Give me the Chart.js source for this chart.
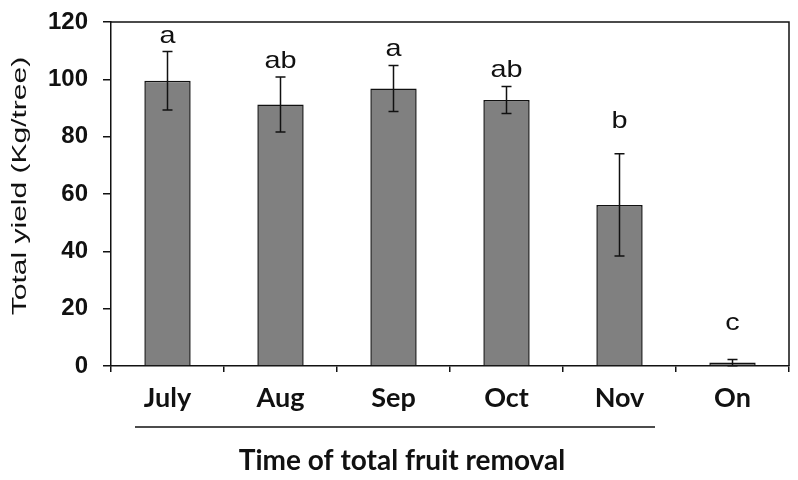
<!DOCTYPE html>
<html>
<head>
<meta charset="utf-8">
<script src="https://cdn.jsdelivr.net/npm/chart.js@4"></script>
<style>
  body { margin: 0; background: #fff; }
</style>
</head>
<body>
<canvas id="graph" width="798" height="480"></canvas>
<script>
const months = ["July", "Aug", "Sep", "Oct", "Nov", "On"];
const yieldMeans = [99.5, 91.2, 96.8, 92.8, 56.2, 1.2];
const yieldErrors = [10.2, 9.6, 8.0, 4.7, 17.8, 1.1];
const letters = ["a", "ab", "a", "ab", "b", "c"];
const letterAt = [112.7, 104.0, 108.2, 100.8, 83.0, 12.6];
const yTicks = [0, 20, 40, 60, 80, 100, 120];

const ctx = document.getElementById("graph").getContext("2d");

const annotate = {
  id: "annotate",
  afterDatasetsDraw(chart) {
    const { ctx, chartArea, scales: { x, y } } = chart;
    ctx.save();
    ctx.strokeStyle = "#111";
    ctx.lineWidth = 1.5;

    // box on top and right
    ctx.beginPath();
    ctx.moveTo(chartArea.left, chartArea.top);
    ctx.lineTo(chartArea.right, chartArea.top);
    ctx.lineTo(chartArea.right, chartArea.bottom);
    ctx.stroke();

    // error bars
    yieldMeans.forEach((m, i) => {
      const cx = x.getPixelForValue(i);
      const hi = y.getPixelForValue(m + yieldErrors[i]);
      const lo = y.getPixelForValue(Math.max(0, m - yieldErrors[i]));
      ctx.beginPath();
      ctx.moveTo(cx, hi); ctx.lineTo(cx, lo);
      ctx.moveTo(cx - 5, hi); ctx.lineTo(cx + 5, hi);
      ctx.moveTo(cx - 5, lo); ctx.lineTo(cx + 5, lo);
      ctx.stroke();
    });

    // significance letters
    ctx.fillStyle = "#111";
    ctx.font = "24px 'Liberation Sans', Arial, sans-serif";
    ctx.textAlign = "center";
    ctx.textBaseline = "alphabetic";
    letters.forEach((t, i) => {
      ctx.save();
      ctx.translate(x.getPixelForValue(i), y.getPixelForValue(letterAt[i]));
      ctx.scale(1.2, 1);
      ctx.fillText(t, 0, 0);
      ctx.restore();
    });
    ctx.restore();
  },
  afterDraw(chart) {
    const { ctx, chartArea, scales: { x } } = chart;
    ctx.save();
    // line under the removal months
    const half = (x.getPixelForValue(1) - x.getPixelForValue(0)) / 2;
    const x0 = x.getPixelForValue(0) - half + 24;
    const x1 = x.getPixelForValue(4) + half - 21;
    const ly = chartArea.bottom + 61;
    ctx.strokeStyle = "#111";
    ctx.lineWidth = 1.5;
    ctx.beginPath();
    ctx.moveTo(x0, ly); ctx.lineTo(x1, ly);
    ctx.stroke();

    // x title
    ctx.fillStyle = "#111";
    ctx.font = "bold 28px Lato, 'Open Sans', sans-serif";
    ctx.textAlign = "center";
    ctx.textBaseline = "middle";
    ctx.fillText("Time of total fruit removal", (x0 + x1) / 2 + 7, chartArea.bottom + 95);

    // y title
    ctx.font = "20px 'Liberation Sans', Arial, sans-serif";
    ctx.translate(20, (chartArea.top + chartArea.bottom) / 2 - 8);
    ctx.rotate(-Math.PI / 2);
    ctx.scale(1.5, 1);
    ctx.fillText("Total yield (Kg/tree)", 0, 0);
    ctx.restore();
  }
};

const chart = new Chart(ctx, {
  type: "bar",
  data: {
    labels: months,
    datasets: [{
      label: "Total yield",
      data: yieldMeans,
      backgroundColor: "#808080",
      borderColor: "#111",
      borderWidth: 1.5,
      categoryPercentage: 1,
      barPercentage: 0.41
    }]
  },
  options: {
    responsive: false,
    animation: false,
    layout: { padding: { top: 22, right: 9, left: 0, bottom: 0 } },
    plugins: {
      legend: { display: false },
      tooltip: { enabled: false }
    },
    scales: {
      x: {
        afterFit(scale) {
          scale.height = 114;
          scale.paddingLeft = 0;
          scale.paddingRight = 0;
        },
        grid: { drawOnChartArea: false, drawTicks: true, tickLength: 6, color: "#111", lineWidth: 1.5, offset: true },
        border: { display: true, color: "#111", width: 1.5 },
        ticks: {
          color: "#111",
          padding: 10,
          font: { family: "Lato, 'Open Sans', sans-serif", size: 27, weight: "bold" }
        }
      },
      y: {
        min: 0,
        max: 120,
        afterFit(scale) {
          scale.width = 111;
          scale.paddingTop = 0;
          scale.paddingBottom = 0;
        },
        afterBuildTicks(scale) { scale.ticks = yTicks.map(v => ({ value: v })); },
        grid: { drawOnChartArea: false, drawTicks: true, tickLength: 8, color: "#111", lineWidth: 1.5 },
        border: { display: true, color: "#111", width: 1.5 },
        ticks: {
          color: "#111",
          padding: 15,
          font: { family: "'Liberation Sans', Arial, sans-serif", size: 24, weight: "bold" }
        }
      }
    }
  },
  plugins: [annotate]
});
</script>
</body>
</html>
